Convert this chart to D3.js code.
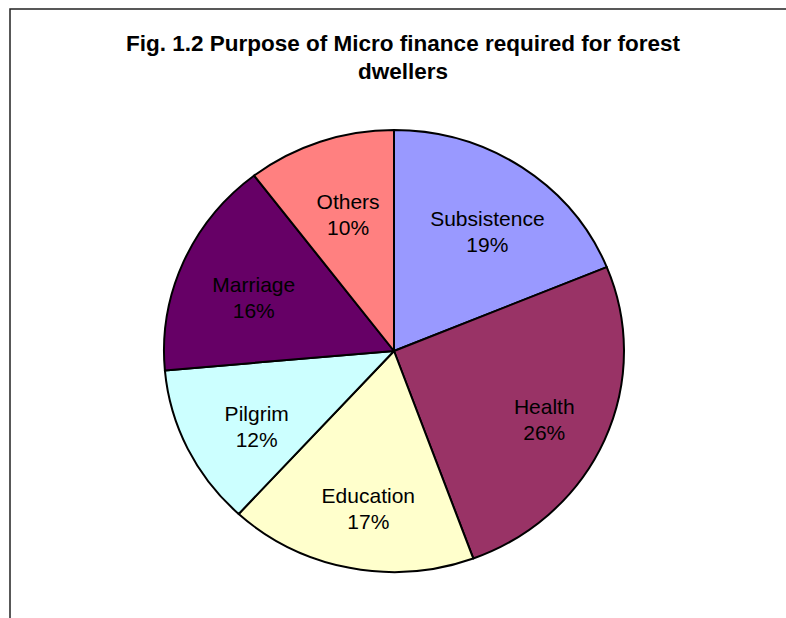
<!DOCTYPE html>
<html>
<head>
<meta charset="utf-8">
<script src="https://cdn.jsdelivr.net/npm/d3@7"></script>
<style>
  body { margin: 0; background: #fff; }
  svg { display: block; }
</style>
</head>
<body>
<svg id="chart" width="786" height="618"></svg>
<script>
(function () {
    // data (shares in percent)
    const categories = ["Subsistence", "Health", "Education", "Pilgrim", "Marriage", "Others"];
    const values = [18.8, 25.6, 17.4, 11.8, 16.0, 10.4];
    const colors = ["#9999FF", "#993366", "#FFFFCC", "#CCFFFF", "#660066", "#FF8080"];
    const titleLines = ["Fig. 1.2 Purpose of Micro finance required for forest", "dwellers"];

    const cx = 394, cy = 351;
    const rx = 230, ry = 221;

    const svg = d3.select("#chart");

    // outer frame (runs off right and bottom)
    svg.append("rect")
        .attr("x", 10).attr("y", 9)
        .attr("width", 900).attr("height", 900)
        .attr("fill", "none")
        .attr("stroke", "#222")
        .attr("stroke-width", 1.5);

    // title
    svg.append("text")
        .attr("text-anchor", "middle")
        .style("font-family", "'Liberation Sans', Arial, sans-serif")
        .style("font-weight", "bold")
        .style("font-size", "22.5px")
        .selectAll("tspan")
        .data(titleLines)
        .enter()
        .append("tspan")
        .attr("x", 403)
        .attr("y", function (d, i) { return 51 + i * 28; })
        .text(function (d) { return d; });

    const total = d3.sum(values);
    const pie = d3.pie().sort(null).value(function (d) { return d; });
    const arcs = pie(values);

    // draw on a circle of radius ry and stretch horizontally
    const arc = d3.arc().innerRadius(0).outerRadius(ry);

    const g = svg.append("g")
        .attr("transform", "translate(" + cx + "," + cy + ") scale(" + (rx / ry) + ",1)");

    g.selectAll("path")
        .data(arcs)
        .enter()
        .append("path")
        .attr("d", arc)
        .attr("fill", function (d, i) { return colors[i]; })
        .attr("stroke", "#000")
        .attr("stroke-width", 2)
        .attr("vector-effect", "non-scaling-stroke")
        .attr("stroke-linejoin", "round");

    // labels at ~0.69 of the radius along the mid angle
    const labelArc = d3.arc().innerRadius(ry * 0.69).outerRadius(ry * 0.69);

    const labels = svg.append("g")
        .style("font-family", "'Liberation Sans', Arial, sans-serif")
        .style("font-size", "21px")
        .attr("fill", "#000");

    labels.selectAll("text")
        .data(arcs)
        .enter()
        .append("text")
        .attr("text-anchor", "middle")
        .attr("transform", function (d) {
            const c = labelArc.centroid(d);
            return "translate(" + (cx + 5 + c[0] * rx / ry) + "," + (cy + 7 + c[1]) + ")";
        })
        .each(function (d, i) {
            const t = d3.select(this);
            t.append("tspan").attr("x", 0).attr("y", -5)
                .text(categories[i]);
            t.append("tspan").attr("x", 0).attr("y", 21)
                .text(Math.round(values[i] / total * 100) + "%");
        });
})();
</script>
</body>
</html>
